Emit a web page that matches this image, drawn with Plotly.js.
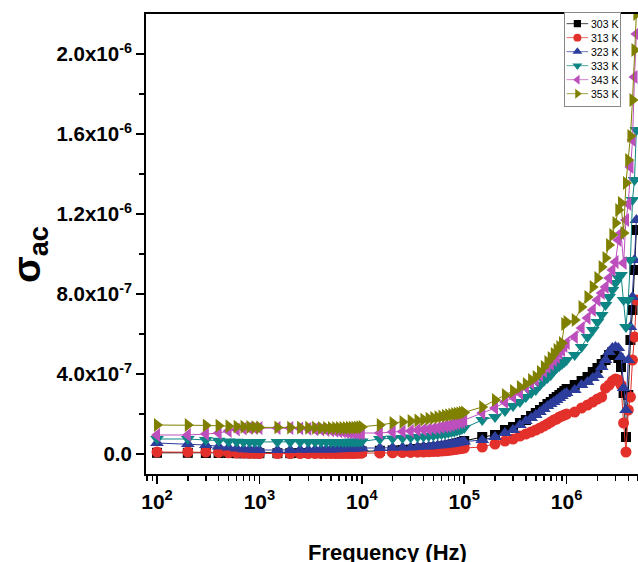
<!DOCTYPE html>
<html>
<head>
<meta charset="utf-8">
<script src="https://cdn.plot.ly/plotly-3.0.1.min.js"></script>
<style>
html,body{margin:0;padding:0;background:#fff;overflow:hidden;width:638px;height:562px;}
#chart{width:660px;height:562px;}
</style>
</head>
<body>
<div id="chart"></div>
<script>
// Frequency (Hz)
const freq = [
  100,200,300,400,500,600,700,800,900,1000,
  1500,2000,2500,3000,3500,4000,4500,5000,5500,6000,6500,7000,7500,8000,8500,9000,9500,10000,
  15000,20000,25000,30000,35000,40000,45000,50000,55000,60000,65000,70000,75000,80000,85000,90000,95000,100000,
  150000,200000,250000,300000,350000,400000,450000,500000,550000,600000,650000,700000,750000,800000,850000,900000,950000,1000000,
  1200000,1400000,1600000,1800000,2000000,2200000,2400000,2600000,2800000,3000000,3200000,3400000,3600000,3800000,4000000,4200000,4400000,4600000,4800000
];
// sigma_ac values in units of 1e-7
const s303 = [
  0.06,0.06,0.05,0.05,0.05,0.04,0.04,0.04,0.04,0.04,
  0.04,0.04,0.05,0.05,0.05,0.05,0.06,0.06,0.06,0.07,0.07,0.08,0.08,0.09,0.10,0.11,0.12,0.13,
  0.16,0.18,0.20,0.22,0.25,0.28,0.30,0.33,0.35,0.38,0.40,0.43,0.46,0.50,0.53,0.56,0.60,0.65,
  0.85,0.95,1.20,1.35,1.55,1.70,1.90,2.05,2.20,2.35,2.50,2.60,2.75,2.85,2.95,3.05,3.15,3.25,
  3.45,3.65,3.85,4.10,4.30,4.50,4.70,4.95,5.10,5.10,4.80,4.35,3.05,0.85,2.95,5.70,7.20,9.20,11.2
];
const s313 = [
  0.10,0.10,0.10,0.08,0.06,0.05,0.04,0.03,0.03,0.02,
  0.02,0.02,0.02,0.02,0.02,0.02,0.02,0.02,0.02,0.02,0.03,0.03,0.03,0.03,0.03,0.04,0.04,0.04,
  0.05,0.06,0.07,0.08,0.09,0.10,0.11,0.12,0.13,0.15,0.16,0.18,0.20,0.22,0.24,0.26,0.28,0.30,
  0.35,0.50,0.65,0.75,0.90,1.00,1.10,1.20,1.30,1.40,1.50,1.60,1.70,1.75,1.85,1.90,1.95,2.00,
  2.10,2.30,2.45,2.60,2.75,2.85,3.30,3.45,3.65,3.75,3.70,3.45,1.55,0.10,2.20,2.85,4.70,5.85,7.70
];
const s323 = [
  0.55,0.50,0.45,0.38,0.32,0.27,0.24,0.22,0.21,0.20,
  0.20,0.20,0.21,0.21,0.22,0.22,0.23,0.23,0.24,0.24,0.25,0.25,0.26,0.26,0.27,0.28,0.29,0.30,
  0.30,0.31,0.32,0.33,0.35,0.37,0.38,0.40,0.42,0.44,0.46,0.48,0.50,0.52,0.55,0.57,0.60,0.62,
  0.70,0.85,1.05,1.20,1.45,1.65,1.80,1.95,2.10,2.25,2.40,2.50,2.60,2.70,2.80,2.90,3.00,3.05,
  3.20,3.45,3.60,3.80,3.95,4.35,4.70,5.10,5.30,5.35,5.30,4.85,3.30,2.20,4.70,6.35,7.85,9.70,11.70
];
const s333 = [
  0.75,0.75,0.70,0.66,0.63,0.61,0.60,0.60,0.60,0.60,
  0.60,0.60,0.60,0.60,0.60,0.60,0.60,0.60,0.60,0.60,0.60,0.60,0.61,0.61,0.61,0.62,0.62,0.63,
  0.75,0.78,0.80,0.82,0.85,0.87,0.90,0.93,0.97,1.00,1.03,1.06,1.10,1.13,1.17,1.20,1.25,1.30,
  1.70,1.85,2.15,2.40,2.60,2.85,3.05,3.20,3.45,3.65,3.80,3.95,4.15,4.30,4.40,4.50,4.60,4.70,
  4.95,5.35,5.85,6.20,6.60,6.95,7.45,7.85,8.20,8.55,8.80,8.95,7.70,6.35,7.70,9.70,12.70,13.70,16.20
];
const s343 = [
  0.95,0.95,1.00,1.05,1.15,1.22,1.27,1.30,1.30,1.30,
  1.30,1.30,1.28,1.26,1.24,1.22,1.20,1.18,1.16,1.14,1.12,1.10,1.08,1.07,1.06,1.05,1.05,1.05,
  1.05,1.10,1.12,1.15,1.20,1.22,1.25,1.28,1.30,1.35,1.38,1.40,1.45,1.50,1.55,1.60,1.62,1.70,
  2.05,2.30,2.60,2.85,3.05,3.35,3.55,3.70,3.95,4.15,4.35,4.50,4.70,4.85,5.05,5.20,5.40,5.55,
  5.85,6.30,6.80,7.20,7.70,8.05,8.35,8.80,9.20,9.60,10.70,11.05,9.55,11.70,12.50,14.35,15.70,18.85,21.00
];
const s353 = [
  1.45,1.45,1.43,1.41,1.39,1.37,1.36,1.35,1.34,1.33,
  1.33,1.32,1.32,1.31,1.31,1.30,1.30,1.30,1.30,1.30,1.30,1.30,1.31,1.31,1.32,1.33,1.34,1.35,
  1.45,1.55,1.60,1.65,1.68,1.72,1.76,1.80,1.84,1.88,1.91,1.94,1.97,2.00,2.02,2.04,2.06,2.08,
  2.35,2.70,2.95,3.15,3.35,3.50,3.70,3.85,4.10,4.35,4.60,4.80,5.00,5.20,5.35,5.55,6.50,6.60,
  6.70,7.35,7.85,8.35,8.80,9.35,9.80,10.45,10.95,11.55,12.20,12.55,11.05,13.55,14.70,15.90,17.70,20.20,22.00
];
const seriesNames = ["303 K","313 K","323 K","333 K","343 K","353 K"];
const seriesData = [s303,s313,s323,s333,s343,s353];
const colors = ["#000000","#e3302a","#2c3d9c","#0e8585","#bd4fbd","#808000"];
const symbols = ["square","circle","triangle-up","triangle-down","triangle-left","triangle-right"];
const sizes = [10,11,12,12,12,12];

const xMajor = [100,1000,10000,100000,1000000];
const xMajorText = ["10<sup>2</sup>","10<sup>3</sup>","10<sup>4</sup>","10<sup>5</sup>","10<sup>6</sup>"];
const xMinor = [80,90,200,300,400,500,600,700,800,900,2000,3000,4000,5000,6000,7000,8000,9000,
  20000,30000,40000,50000,60000,70000,80000,90000,200000,300000,400000,500000,600000,700000,800000,900000,
  2000000,3000000,4000000,5000000,6000000,7000000];
const yMajor = [0,4,8,12,16,20];
const yMajorText = ["0.0","4.0x10<sup>-7</sup>","8.0x10<sup>-7</sup>","1.2x10<sup>-6</sup>","1.6x10<sup>-6</sup>","2.0x10<sup>-6</sup>"];
const yMinor = [2,6,10,14,18];

const FONT = "Liberation Sans, Arial, Helvetica, sans-serif";

const traces = seriesData.map((d,i)=>({
  x: freq, y: d, name: seriesNames[i], type: "scatter", mode: "lines+markers",
  line: {color: colors[i], width: 1},
  marker: {symbol: symbols[i], size: sizes[i], color: colors[i], line: {width: 0}},
  cliponaxis: true
}));

const layout = {
  width: 660, height: 562,
  margin: {l: 146, r: 0, t: 14, b: 88},
  paper_bgcolor: "#fff", plot_bgcolor: "#fff",
  showlegend: true,
  font: {family: FONT, color: "#000"},
  xaxis: {
    type: "log", range: [1.8926, 6.912],
    showgrid: false, zeroline: false,
    showline: true, linecolor: "#000", linewidth: 2, mirror: true,
    ticks: "outside", ticklen: 8, tickwidth: 1.5, tickcolor: "#000",
    tickmode: "array", tickvals: xMajor, ticktext: xMajorText,
    tickfont: {family: FONT, size: 21, weight: "bold", color: "#000"},
    minor: {tickmode: "array", tickvals: xMinor, ticks: "outside", ticklen: 5, tickwidth: 1.5, tickcolor: "#000", showgrid: false}
  },
  yaxis: {
    range: [-1, 22],
    showgrid: false, zeroline: false,
    showline: true, linecolor: "#000", linewidth: 2, mirror: false,
    ticks: "outside", ticklen: 8, tickwidth: 1.5, tickcolor: "#000",
    tickmode: "array", tickvals: yMajor, ticktext: yMajorText,
    tickfont: {family: FONT, size: 20.5, weight: "bold", color: "#000"},
    minor: {tickmode: "array", tickvals: yMinor, ticks: "outside", ticklen: 5, tickwidth: 1.5, tickcolor: "#000", showgrid: false}
  },
  legend: {
    x: 0.8132, y: 1.004, xanchor: "left", yanchor: "top",
    bgcolor: "#fff", bordercolor: "#888", borderwidth: 1,
    font: {family: FONT, size: 10.5, color: "#000"},
    itemwidth: 30, tracegroupgap: 0
  },
  annotations: [
    {text: "σ<sub>ac</sub>", xref: "paper", yref: "paper", x: -0.2276, y: 0.476,
     xanchor: "center", yanchor: "middle", showarrow: false, textangle: -90,
     font: {family: FONT, size: 39, weight: "bold", color: "#000"}},
    {text: "Frequency (Hz)", xref: "paper", yref: "paper", x: 0.469, y: -0.1696,
     xanchor: "center", yanchor: "middle", showarrow: false,
     font: {family: FONT, size: 22, weight: "bold", color: "#000"}}
  ]
};

Plotly.newPlot("chart", traces, layout, {displayModeBar: false, staticPlot: true}).then(function(gd){
  // compact the legend rows to match the reference's tighter legend box
  try {
    const leg = gd.querySelector("g.legend");
    if (!leg) return;
    const items = leg.querySelectorAll("g.traces");
    const step = 14;
    const symT = "translate(-2,0) scale(0.72)";
    let y0 = null, yLast = 0, yLastNew = 0;
    items.forEach(function(it, i){
      const t = it.getAttribute("transform") || "";
      const m = /translate\(\s*([-\d.]+)[ ,]+([-\d.]+)\s*\)/.exec(t);
      const x = m ? parseFloat(m[1]) : 0;
      const y = m ? parseFloat(m[2]) : 0;
      if (y0 === null) y0 = y - 4;
      yLast = y;
      yLastNew = y0 + i * step;
      it.setAttribute("transform", "translate(" + x + "," + yLastNew + ")");
      ["g.legendfill", "g.legendlines", "g.legendsymbols"].forEach(function(sel){
        it.querySelectorAll(sel).forEach(function(g){ g.setAttribute("transform", symT); });
      });
      const txt = it.querySelector("text.legendtext");
      if (txt) txt.setAttribute("x", 26);
    });
    const bg = leg.querySelector("rect.bg");
    if (bg) {
      const h = parseFloat(bg.getAttribute("height"));
      const w = parseFloat(bg.getAttribute("width"));
      bg.setAttribute("height", (yLastNew + (h - yLast) - 2).toFixed(1));
      bg.setAttribute("width", (w - 18).toFixed(1));
    }
  } catch (e) {}
});
</script>
</body>
</html>
